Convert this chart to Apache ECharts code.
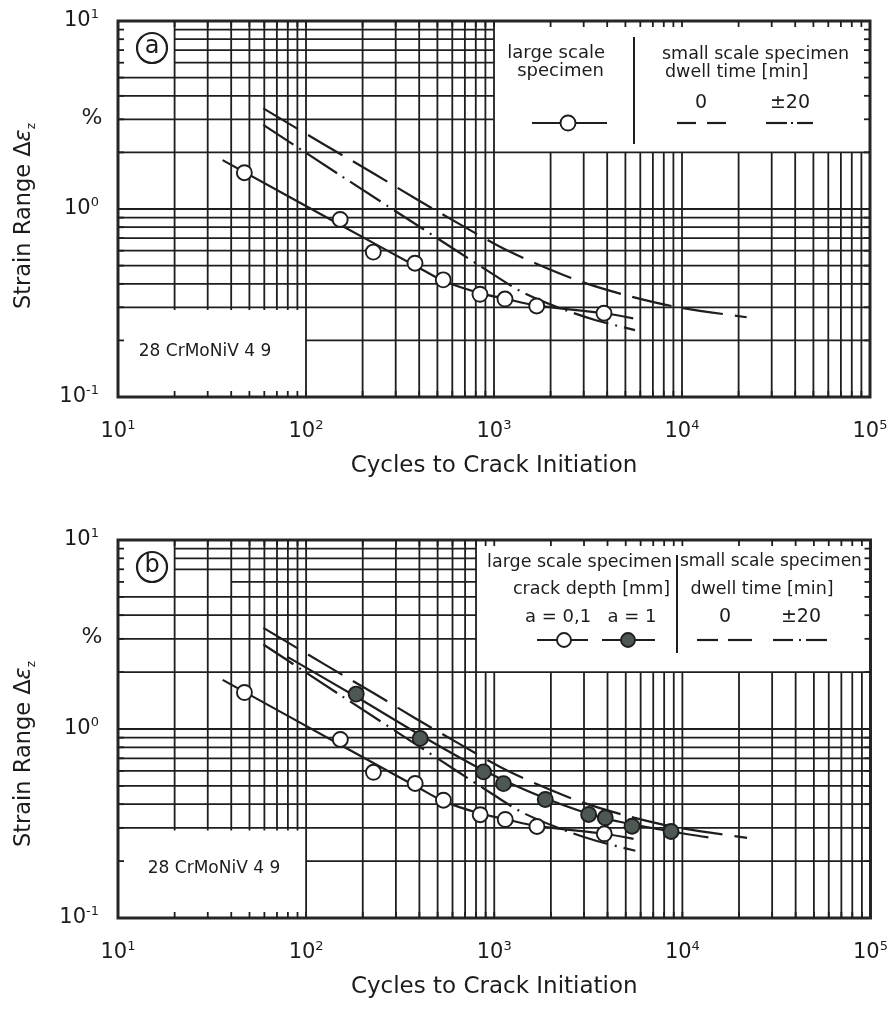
<!DOCTYPE html>
<html><head><meta charset="utf-8">
<script src="https://cdn.jsdelivr.net/npm/echarts@6/dist/echarts.min.js"></script>
<style>html,body{margin:0;padding:0;background:#fff}#c{width:891px;height:1011px}</style>
</head><body><div id="c"></div>
<script>
// ---------------- data ----------------
const xDecades = [10, 100, 1000, 10000, 100000];
const yDecades = [0.1, 1, 10];
// large scale specimen, crack depth a = 0,1 (open circles)
const openCycles = [47, 152, 228, 380, 537, 842, 1144, 1687, 3846];
const openStrain = [1.56, 0.88, 0.59, 0.515, 0.42, 0.352, 0.332, 0.305, 0.279];
// fitted curve through open circles
const openFitCycles = [36, 150, 400, 540, 840, 1150, 1700, 3850, 5500];
const openFitStrain = [1.82, 0.83, 0.486, 0.414, 0.357, 0.333, 0.306, 0.279, 0.262];
// small scale specimen, dwell time 0 (dashed)
const dwell0Cycles = [59.3, 126, 228, 380, 646, 1076, 1693, 2938, 5224, 9400, 22080];
const dwell0Strain = [3.43, 2.19, 1.55, 1.14, 0.839, 0.630, 0.510, 0.409, 0.3445, 0.301, 0.2655];
// small scale specimen, dwell time ±20 (dash-dot)
const dwell20Cycles = [59.3, 148.5, 404, 1000, 1409, 2244, 3445, 5623];
const dwell20Strain = [2.80, 1.535, 0.802, 0.446, 0.362, 0.297, 0.257, 0.227];
// large scale specimen, crack depth a = 1 (filled circles, panel b)
const filledCycles = [184.5, 404, 877, 1120, 1867, 3175, 3892, 5400, 8710];
const filledStrain = [1.53, 0.892, 0.593, 0.514, 0.424, 0.353, 0.339, 0.306, 0.287];
const filledFitCycles = [79.2, 184.5, 404, 874, 1867, 3892, 8740, 13750];
const filledFitStrain = [2.415, 1.48, 0.929, 0.605, 0.430, 0.336, 0.287, 0.267];

// ---------------- helpers ----------------
const FONT = "'DejaVu Sans', sans-serif";
const INK = '#1c1c1c';
const zip = (a, b) => a.map((v, i) => [v, b[i]]);
function minorValues(decs) {
  const out = [];
  for (let i = 0; i < decs.length - 1; i++)
    for (let m = 1; m <= 9; m++) out.push(+(decs[i] * m).toPrecision(6));
  out.push(decs[decs.length - 1]);
  return out;
}
const xGrid = minorValues(xDecades);
const yGrid = minorValues(yDecades);

// layout boxes (in axis units) where the grid is blanked
const boxesA = [
  {x0: 10, x1: 20, y0: 5.5, y1: 10},
  {x0: 1000, x1: 100000, y0: 2, y1: 10},
  {x0: 10, x1: 100, y0: 0.1, y1: 0.29}
];
const boxesB = [
  {x0: 10, x1: 20, y0: 5.5, y1: 10},
  {x0: 10, x1: 40, y0: 5.9, y1: 6.1, hOnly: true},
  {x0: 800, x1: 100000, y0: 2, y1: 10},
  {x0: 10, x1: 100, y0: 0.1, y1: 0.29}
];
function cut(segs, a, b) {
  const out = [];
  segs.forEach(s => {
    if (s[1] <= a || s[0] >= b) { out.push(s); return; }
    if (s[0] < a) out.push([s[0], a]);
    if (s[1] > b) out.push([b, s[1]]);
  });
  return out;
}
function gridRenderer(boxes) {
  return function (params, api) {
    const ch = [];
    const st = {stroke: '#1e1e1e', lineWidth: 1.8};
    const xMin = xDecades[0], xMax = xDecades[xDecades.length - 1];
    const yMin = yDecades[0], yMax = yDecades[yDecades.length - 1];
    const ln = (p, q) => ch.push({type: 'line', shape: {x1: p[0], y1: p[1], x2: q[0], y2: q[1]}, style: st});
    xGrid.forEach(v => {
      if (v <= xMin || v >= xMax) return;
      let segs = [[yMin, yMax]];
      boxes.forEach(b => { if (!b.hOnly && v > b.x0 * 1.0001 && v < b.x1 * 0.9999) segs = cut(segs, b.y0, b.y1); });
      segs.forEach(s => ln(api.coord([v, s[0]]), api.coord([v, s[1]])));
      const pb = api.coord([v, yMin]), pt = api.coord([v, yMax]);
      ln(pb, [pb[0], pb[1] - 6]); ln(pt, [pt[0], pt[1] + 6]);
    });
    yGrid.forEach(v => {
      if (v <= yMin * 1.0001 || v >= yMax * 0.9999) return;
      let segs = [[xMin, xMax]];
      boxes.forEach(b => { if (v > b.y0 * 1.0001 && v < b.y1 * 0.9999) segs = cut(segs, b.x0, b.x1); });
      segs.forEach(s => ln(api.coord([s[0], v]), api.coord([s[1], v])));
      const pl = api.coord([xMin, v]), pr = api.coord([xMax, v]);
      ln(pl, [pl[0] + 6, pl[1]]); ln(pr, [pr[0] - 6, pr[1]]);
    });
    return {type: 'group', children: ch};
  };
}
const supFmt = v => '{b|10}{s|' + Math.round(Math.log10(v)) + '}';
const labRich = {
  b: {fontSize: 21, fontFamily: FONT, color: INK, lineHeight: 26},
  s: {fontSize: 13, fontFamily: FONT, color: INK, verticalAlign: 'top', lineHeight: 13}
};
function xAx(gi) {
  return {
    type: 'log', logBase: 10, gridIndex: gi, min: 10, max: 100000,
    axisLine: {show: false}, axisTick: {show: false}, splitLine: {show: false},
    axisLabel: {formatter: supFmt, rich: labRich, margin: 22, fontSize: 21, fontFamily: FONT, color: INK},
    name: 'Cycles to Crack Initiation', nameLocation: 'middle', nameGap: 58,
    nameTextStyle: {fontFamily: FONT, fontSize: 23, color: INK}
  };
}
function yAx(gi) {
  return {
    type: 'log', logBase: 10, gridIndex: gi, min: 0.1, max: 10,
    axisLine: {show: false}, axisTick: {show: false}, splitLine: {show: false},
    axisLabel: {formatter: supFmt, rich: labRich, margin: 19, fontSize: 21, fontFamily: FONT, color: INK}
  };
}
function lineSeries(gi, xs, ys, type, name) {
  return {
    type: 'line', name, xAxisIndex: gi, yAxisIndex: gi, data: zip(xs, ys),
    showSymbol: false, smooth: 0.3, z: 3, silent: true,
    lineStyle: {color: '#1e1e1e', width: 2.2, type: type}
  };
}
function scatterSeries(gi, xs, ys, fill, name) {
  return {
    type: 'scatter', name, xAxisIndex: gi, yAxisIndex: gi, data: zip(xs, ys),
    symbol: 'circle', symbolSize: 15, z: 4, silent: true,
    itemStyle: {color: fill, borderColor: '#1e1e1e', borderWidth: 1.9, opacity: 1}
  };
}
const DASH = [40, 12];
const DASHDOT = [36, 7, 2, 7];

// ---------------- annotations ----------------
function T(x, y, text, o) {
  return {type: 'text', x, y, z: 50, style: Object.assign({
    text, fontFamily: FONT, fontSize: 17.5, fill: INK,
    textAlign: 'center', align: 'center', textVerticalAlign: 'middle', verticalAlign: 'middle'
  }, o || {})};
}
function L(x1, y1, x2, y2, w) {
  return {type: 'line', z: 50, shape: {x1, y1, x2, y2}, style: {stroke: '#1e1e1e', lineWidth: w || 2.2}};
}
function C(cx, cy, r, fill) {
  return {type: 'circle', z: 51, shape: {cx, cy, r}, style: {fill, stroke: '#1e1e1e', lineWidth: 1.9}};
}
function panelDecor(top, tag, yTitleY, matX, matY) {
  return [
    {type: 'circle', z: 50, shape: {cx: 152, cy: top + 27, r: 15}, style: {fill: '#fff', stroke: '#1e1e1e', lineWidth: 2.2}},
    T(152, top + 26, tag, {fontSize: 24}),
    T(92, top + 97, '%', {fontSize: 22}),
    T(matX, matY, '28 CrMoNiV 4 9', {fontSize: 17}),
    {type: 'text', x: 24, y: yTitleY, rotation: Math.PI / 2, z: 50, style: {
      text: '{a|Strain Range Δ}{e|ε}{z|z}', fontFamily: FONT, fill: INK,
      textAlign: 'center', align: 'center', textVerticalAlign: 'middle', verticalAlign: 'middle',
      rich: {
        a: {fontSize: 22.5, fontFamily: FONT, color: INK, lineHeight: 28},
        e: {fontSize: 22.5, fontFamily: FONT, fontStyle: 'italic', color: INK, lineHeight: 28},
        z: {fontSize: 12, fontFamily: FONT, color: INK, verticalAlign: 'bottom', lineHeight: 16}
      }
    }}
  ];
}
const legendA = [
  T(605, 53, 'large scale', {textAlign: 'right', align: 'right', fontSize: 18}),
  T(604, 71, 'specimen', {textAlign: 'right', align: 'right', fontSize: 18}),
  L(532, 123, 607, 123), C(568, 123, 7.5, '#fff'),
  L(634, 37, 634, 144, 2),
  T(662, 54, 'small scale specimen', {textAlign: 'left', align: 'left'}),
  T(665, 72, 'dwell time [min]', {textAlign: 'left', align: 'left'}),
  T(701, 103, '0', {fontSize: 19}), T(790, 103, '±20', {fontSize: 19}),
  L(677, 123, 696, 123), L(707, 123, 726, 123),
  L(766, 123, 787, 123), L(791, 123, 793, 123), L(797, 123, 813, 123)
];
const legendB = [
  T(672, 562, 'large scale specimen', {textAlign: 'right', align: 'right'}),
  T(670, 589, 'crack depth [mm]', {textAlign: 'right', align: 'right'}),
  L(677, 555, 677, 653, 2),
  T(680, 562, 'small scale specimen', {textAlign: 'left', align: 'left', fontSize: 17}),
  T(762, 589, 'dwell time [min]'),
  T(558, 617, 'a = 0,1', {fontSize: 18}), T(632, 617, 'a = 1', {fontSize: 18}),
  L(537, 640, 588, 640), C(564, 640, 7, '#fff'),
  L(602, 640, 655, 640), C(628, 640, 7, '#4e5853'),
  T(725, 617, '0', {fontSize: 19}), T(801, 617, '±20', {fontSize: 19}),
  L(697, 640, 718, 640), L(728, 640, 752, 640),
  L(773, 640, 793, 640), L(799, 640, 801, 640), L(806, 640, 827, 640)
];

const chart = echarts.init(document.getElementById('c'), null, {renderer: 'canvas'});
chart.setOption({
  backgroundColor: '#fff',
  animation: false,
  textStyle: {fontFamily: FONT},
  grid: [
    {left: 118, top: 21, width: 752, height: 376, show: true, borderColor: '#262626', borderWidth: 3, backgroundColor: 'transparent'},
    {left: 118, top: 540, width: 754, height: 378, show: true, borderColor: '#262626', borderWidth: 3, backgroundColor: 'transparent'}
  ],
  xAxis: [xAx(0), xAx(1)],
  yAxis: [yAx(0), yAx(1)],
  series: [
    {type: 'custom', xAxisIndex: 0, yAxisIndex: 0, data: [[10, 1]], renderItem: gridRenderer(boxesA), z: 1, silent: true},
    lineSeries(0, dwell0Cycles, dwell0Strain, DASH, 'dwell 0'),
    lineSeries(0, dwell20Cycles, dwell20Strain, DASHDOT, 'dwell ±20'),
    lineSeries(0, openFitCycles, openFitStrain, 'solid', 'large scale fit'),
    scatterSeries(0, openCycles, openStrain, '#fff', 'large scale specimen'),

    {type: 'custom', xAxisIndex: 1, yAxisIndex: 1, data: [[10, 1]], renderItem: gridRenderer(boxesB), z: 1, silent: true},
    lineSeries(1, dwell0Cycles, dwell0Strain, DASH, 'dwell 0 b'),
    lineSeries(1, dwell20Cycles, dwell20Strain, DASHDOT, 'dwell ±20 b'),
    lineSeries(1, openFitCycles, openFitStrain, 'solid', 'a=0,1 fit'),
    lineSeries(1, filledFitCycles, filledFitStrain, 'solid', 'a=1 fit'),
    scatterSeries(1, openCycles, openStrain, '#fff', 'a=0,1'),
    scatterSeries(1, filledCycles, filledStrain, '#4e5853', 'a=1')
  ],
  graphic: [].concat(
    panelDecor(21, 'a', 216, 205, 352),
    panelDecor(540, 'b', 754, 214, 869),
    legendA, legendB
  )
});
</script></body></html>
